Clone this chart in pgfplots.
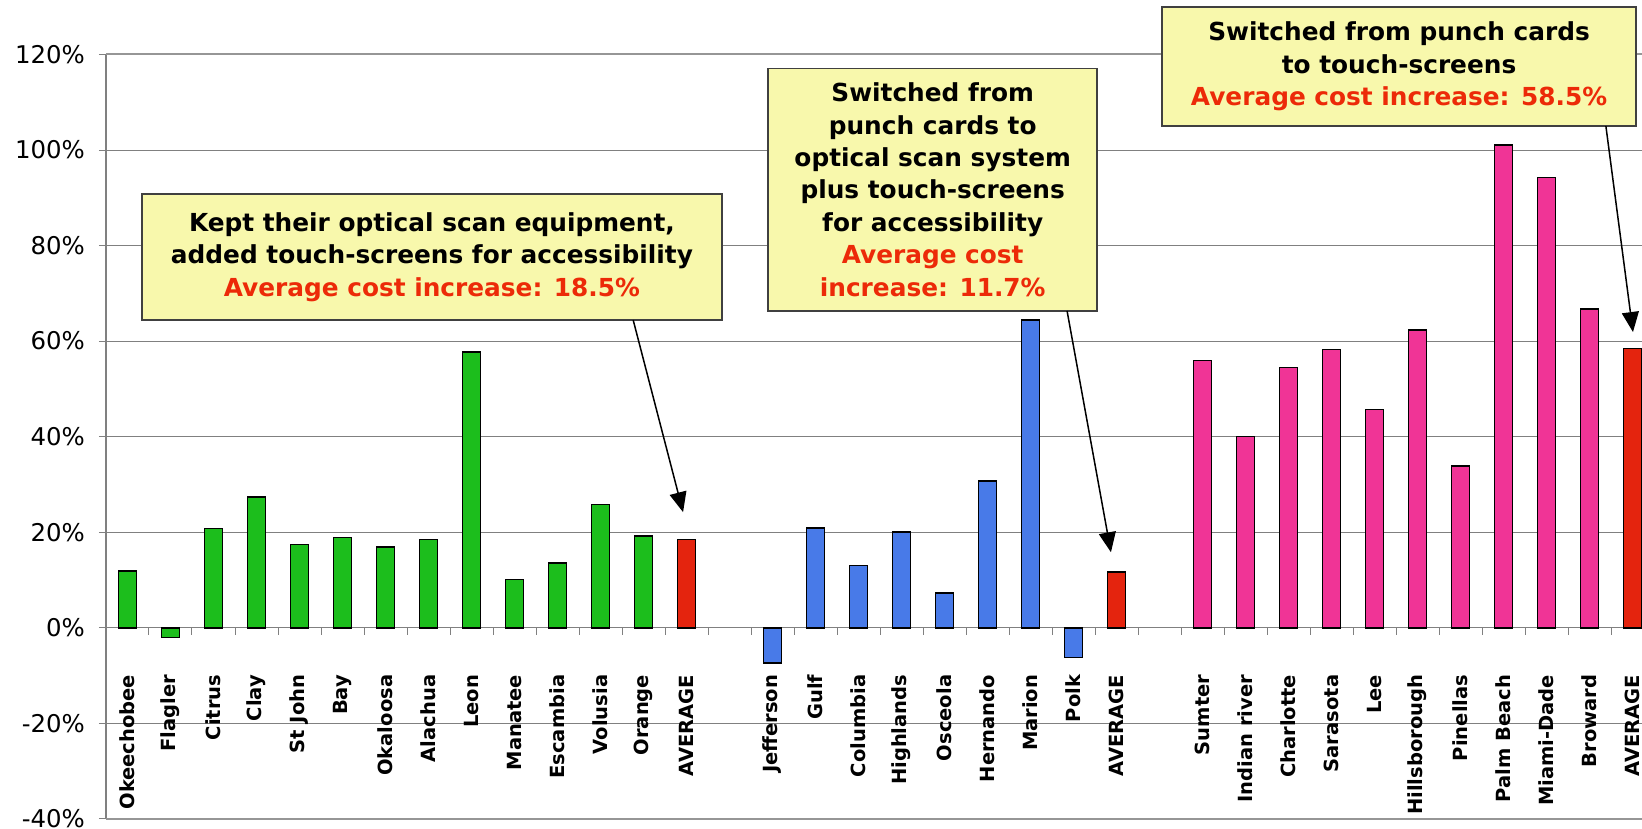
\documentclass[border=0pt]{standalone}
\usepackage{fontspec}
\setmainfont{DejaVu Sans}
\usepackage{pgfplots}
\pgfplotsset{compat=1.18}
\usetikzlibrary{arrows.meta}
\definecolor{cgreen}{RGB}{28,190,28}
\definecolor{cblue}{RGB}{72,122,232}
\definecolor{cpink}{RGB}{240,52,150}
\definecolor{cred}{RGB}{228,36,14}
\definecolor{ctxtred}{RGB}{236,42,8}
\definecolor{cbox}{RGB}{248,248,172}
\definecolor{cgrid}{RGB}{128,128,128}
\definecolor{cframe}{RGB}{150,150,150}
\begin{document}
\begin{tikzpicture}
\begin{axis}[
  scale only axis, width=768pt, height=382.2pt,
  xmin=-0.5, xmax=35.22, ymin=-40, ymax=120,
  axis x line*=middle, axis y line*=left,
  axis line style={cgrid, line width=0.6pt},
  clip=false,
  ytick={-40,-20,0,20,40,60,80,100,120},
  yticklabels={-40\%,-20\%,0\%,20\%,40\%,60\%,80\%,100\%,120\%},
  yticklabel style={font=\fontsize{12.2}{14}\selectfont},
  ymajorgrids, grid style={cgrid, line width=0.5pt},
  tick align=outside,
  major tick length=3.5pt,
  tick style={cgrid, line width=0.5pt},
  xtick={-0.5,0.5,...,35.5},
  xticklabels={},
  extra x ticks={0,1,2,3,4,5,6,7,8,9,10,11,12,13,15,16,17,18,19,20,21,22,23,25,26,27,28,29,30,31,32,33,34,35},
  extra x tick labels={Okeechobee,Flagler,Citrus,Clay,St John,Bay,Okaloosa,Alachua,Leon,Manatee,Escambia,Volusia,Orange,AVERAGE,Jefferson,Gulf,Columbia,Highlands,Osceola,Hernando,Marion,Polk,AVERAGE,Sumter,Indian river,Charlotte,Sarasota,Lee,Hillsborough,Pinellas,Palm Beach,Miami-Dade,Broward,AVERAGE},
  extra x tick style={major tick length=0pt},
  xticklabel style={rotate=90, anchor=east, font=\fontsize{9.75}{11}\selectfont\bfseries},
  xticklabel shift=20pt,
  yticklabel shift=3.5pt,
]
\draw[cframe, line width=1pt] (axis cs:-0.5,120) -- (axis cs:35.22,120);
\draw[cframe, line width=1pt] (axis cs:-0.5,-40) -- (axis cs:35.22,-40);

\addplot[ybar, bar width=9.15pt, fill=cgreen, draw=black, line width=0.75pt] coordinates {
 (0,11.9) (1,-2.0) (2,20.8) (3,27.4) (4,17.4) (5,18.9) (6,16.9) (7,18.5) (8,57.7) (9,10.1) (10,13.6) (11,25.8) (12,19.2)};
\addplot[ybar, bar width=9.15pt, fill=cblue, draw=black, line width=0.75pt] coordinates {
 (15,-7.4) (16,20.9) (17,13.0) (18,20.0) (19,7.3) (20,30.7) (21,64.4) (22,-6.2)};
\addplot[ybar, bar width=9.15pt, fill=cpink, draw=black, line width=0.75pt] coordinates {
 (25,55.9) (26,40.0) (27,54.5) (28,58.2) (29,45.7) (30,62.3) (31,33.9) (32,101.0) (33,94.2) (34,66.7)};
\addplot[ybar, bar width=9.15pt, fill=cred, draw=black, line width=0.75pt] coordinates {
 (13,18.5) (23,11.7) (35,58.5)};

\draw[fill=cbox, draw=black!75, line width=0.75pt] (axis cs:0.337,90.75) rectangle (axis cs:13.83,64.4);
\node[align=center, font=\fontsize{12.4}{16.2}\selectfont\bfseries] at (axis cs:7.08,77.6)
  {Kept their optical scan equipment,\\added touch-screens for accessibility\\\textcolor{ctxtred}{Average cost increase: 18.5\%}};

\draw[fill=cbox, draw=black!75, line width=0.75pt] (axis cs:14.90,117.1) rectangle (axis cs:22.55,66.3);
\node[align=center, font=\fontsize{12.4}{16.2}\selectfont\bfseries] at (axis cs:18.725,91.7)
  {Switched from\\punch cards to\\optical scan system\\plus touch-screens\\for accessibility\\\textcolor{ctxtred}{Average cost}\\\textcolor{ctxtred}{increase: 11.7\%}};

\draw[fill=cbox, draw=black!75, line width=0.75pt] (axis cs:24.06,129.9) rectangle (axis cs:35.08,105.0);
\node[align=center, font=\fontsize{12.4}{16.2}\selectfont\bfseries] at (axis cs:29.57,117.45)
  {Switched from punch cards\\to touch-screens\\\textcolor{ctxtred}{Average cost increase: 58.5\%}};

\draw[black, line width=0.75pt, -{Triangle[length=10pt,width=8.5pt]}] (axis cs:11.76,64.4) -- (axis cs:12.92,24.2);
\draw[black, line width=0.75pt, -{Triangle[length=10pt,width=8.5pt]}] (axis cs:21.85,66.3) -- (axis cs:22.87,15.8);
\draw[black, line width=0.75pt, -{Triangle[length=10pt,width=8.5pt]}] (axis cs:34.38,105.0) -- (axis cs:35.01,61.9);

\coordinate (bbSW) at (axis cs:-2.965,-42.0);
\coordinate (bbNE) at (axis cs:35.22,131.4);
\end{axis}
\pgfresetboundingbox
\path[use as bounding box] (bbSW) rectangle (bbNE);
\end{tikzpicture}
\end{document}
